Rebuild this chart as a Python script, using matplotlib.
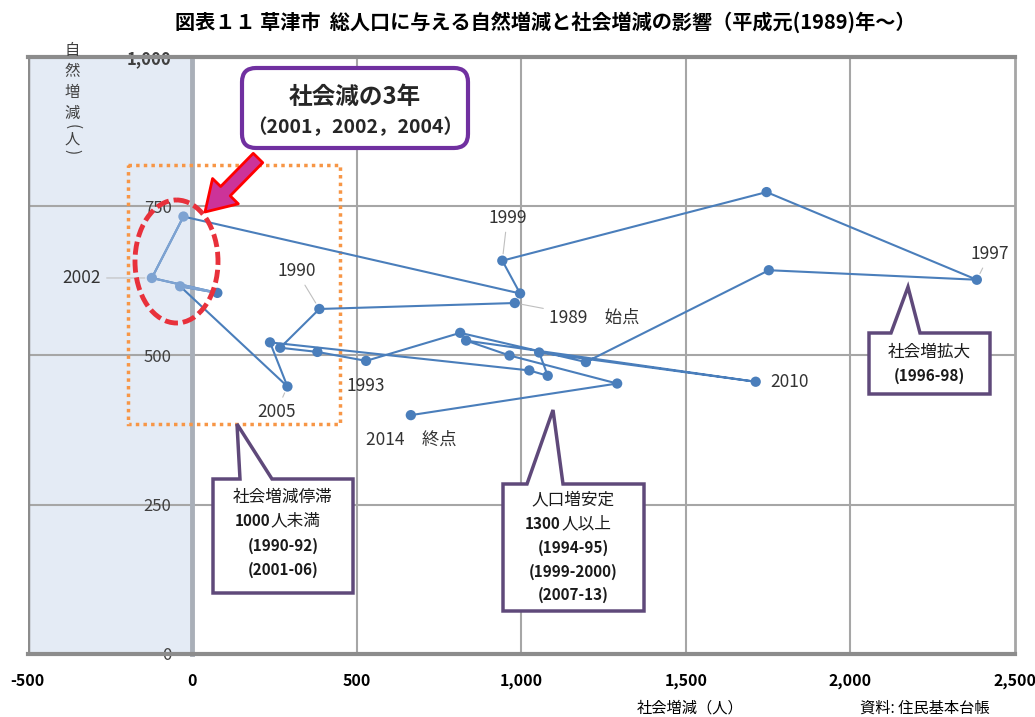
import matplotlib
matplotlib.use("Agg")
import matplotlib.pyplot as plt
from matplotlib.patches import Ellipse, Rectangle, Polygon, FancyBboxPatch, FancyArrowPatch
from matplotlib.transforms import Affine2D

plt.rcParams['font.family'] = ['Noto Sans CJK JP', 'DejaVu Sans']

# data: social change (x) and natural change (y), 1989-2014
years = list(range(1989, 2015))
social = [980, 386, 267, 380, 528, 814, 1196, 1752, 2384, 1745, 942, 996, -27,
          -123, 76, -37, 289, 236, 1024, 1080, 1054, 1712, 832, 964, 1291, 664]
natural = [588, 578, 513, 506, 491, 538, 489, 643, 627, 774, 659, 604, 733,
           630, 605, 616, 448, 522, 475, 466, 505, 456, 525, 500, 453, 400]
light_years = [2001, 2002, 2004]

xticks = [-500, 0, 500, 1000, 1500, 2000, 2500]
yticks = [0, 250, 500, 750, 1000]

# label text, offset from point in pixels, alignment, leader line
point_labels = {
    1999: ("1999", (5, 43), 'center', True),
    1990: ("1990", (-23, 38), 'center', True),
    2002: ("2002", (-70, 0), 'center', True),
    1989: ("1989\u3000始点", (34, -15), 'left', True),
    1993: ("1993", (0, -25), 'center', False),
    2005: ("2005", (-11, -25), 'center', True),
    2014: ("2014\u3000終点", (0, -25), 'center', False),
    2010: ("2010", (15, 0), 'left', False),
    1997: ("1997", (13, 26), 'center', True),
}

W, H = 1035, 717
fig = plt.figure(figsize=(W / 100, H / 100), dpi=100)
# pixel coordinates measured from the top-left corner, for the decorations
pxt = Affine2D().scale(1 / W, -1 / H).translate(0, 1) + fig.transFigure

ax = fig.add_axes([27.8 / W, 1 - 653.7 / H, (1015 - 27.8) / W, (653.7 - 57.3) / H])
ax.set_xlim(-500, 2500)
ax.set_ylim(0, 1000)

ax.axvspan(-500, 0, color='#E4EBF5', zorder=0, lw=0)
for x in xticks[2:-1]:
    ax.axvline(x, color='#A6A6A6', lw=1.5, zorder=1)
for y in yticks[1:-1]:
    ax.axhline(y, color='#A6A6A6', lw=1.5, zorder=1)
ax.axvline(-500, color='#8C8C8C', lw=2.5, zorder=2)

ax.spines['left'].set_position(('data', 0))
ax.spines['left'].set_color('#A9AFB8')
ax.spines['left'].set_linewidth(3.5)
ax.spines['top'].set_color('#8C8C8C')
ax.spines['top'].set_linewidth(3)
ax.spines['right'].set_color('#A6A6A6')
ax.spines['right'].set_linewidth(2)
ax.spines['bottom'].set_color('#8C8C8C')
ax.spines['bottom'].set_linewidth(3)

ax.set_xticks(xticks)
ax.set_xticklabels(['{:,}'.format(v) for v in xticks], fontweight='bold')
ax.set_yticks(yticks)
ax.set_yticklabels(['{:,}'.format(v) for v in yticks])
ax.tick_params(axis='x', length=0, pad=14, labelsize=11.5)
ax.tick_params(axis='y', length=0, pad=15, labelsize=12, labelcolor='#404040')
ax.get_yticklabels()[-1].set_fontweight('bold')

blue = '#4A7EBB'
pale = '#7EA3D2'
ax.plot(social, natural, color=blue, lw=1.5, zorder=5)
i0, i1 = years.index(2001), years.index(2004)
ax.plot(social[i0:i1 + 1], natural[i0:i1 + 1], color=pale, lw=1.5, zorder=5)
cols = [pale if y in light_years else blue for y in years]
ax.scatter(social, natural, s=55, c=cols, zorder=6, lw=0)

for yr, (txt, off, ha, lead) in point_labels.items():
    i = years.index(yr)
    ax.annotate(txt, (social[i], natural[i]), xytext=off, textcoords='offset pixels',
                ha=ha, va='center', fontsize=12.5, color='#333333', zorder=7,
                arrowprops=dict(arrowstyle='-', color='#BFBFBF', lw=0.8,
                                shrinkA=2, shrinkB=5) if lead else None)

# decorations
ax.add_patch(Rectangle((128, 165), 212, 259, transform=pxt, fill=False, ec='#F79646',
                       lw=2.5, ls=(0, (1, 1.2)), zorder=4, clip_on=False))
ax.add_patch(Ellipse((176.5, 261.5), 83, 123, transform=pxt, fill=False, ec='#E8313B',
                     lw=3.5, ls=(0, (2.7, 1.0)), zorder=8, clip_on=False))
ax.add_patch(FancyBboxPatch((248, 74), 214, 68, boxstyle='round,pad=6,rounding_size=14',
                            transform=pxt, fc='white', ec='#7030A0', lw=3, zorder=8,
                            clip_on=False))
ax.text(355, 97, '社会減の3年', transform=pxt, ha='center', va='center', fontsize=17,
        fontweight='bold', color='#262626', zorder=9)
ax.text(355, 127, '（2001，2002，2004）', transform=pxt, ha='center', va='center',
        fontsize=14, fontweight='bold', color='#262626', zorder=9)
ax.add_patch(FancyArrowPatch((258, 158), (205, 212), transform=pxt,
                             arrowstyle='simple,head_width=1.3,head_length=1.05,tail_width=0.48',
                             mutation_scale=20, fc='#CC3399', ec='#FF0000', lw=2,
                             shrinkA=0, shrinkB=0, zorder=9, clip_on=False))


def callout(left, top, right, bottom, b0, b1, tip):
    pts = [(left, top), (b0, top), tip, (b1, top), (right, top), (right, bottom), (left, bottom)]
    ax.add_patch(Polygon(pts, closed=True, transform=pxt, fc='white', ec='#5F497A', lw=2.5,
                         joinstyle='miter', zorder=8, clip_on=False))


def ctext(x, y, s, bold=False, size=11, ha='center'):
    ax.text(x, y, s, transform=pxt, ha=ha, va='center', fontsize=size,
            fontweight='bold' if bold else 'normal', color='#1a1a1a', zorder=9)


callout(213, 479, 353, 593, 240, 272, (237, 424))
ctext(283, 497, '社会増減停滞', size=12)
ctext(270, 521, '1000', bold=True, ha='right')
ctext(270, 521, '人未満', size=12, ha='left')
ctext(283, 546, '(1990-92)', bold=True)
ctext(283, 570, '(2001-06)', bold=True)

callout(503, 484, 644, 611, 527, 563, (553, 410))
ctext(573, 500, '人口増安定', size=12)
ctext(561, 524, '1300', bold=True, ha='right')
ctext(561, 524, '人以上', size=12, ha='left')
ctext(573, 548, '(1994-95)', bold=True)
ctext(573, 572, '(1999-2000)', bold=True)
ctext(573, 595, '(2007-13)', bold=True)

callout(869, 333, 990, 394, 891, 920, (908, 287))
ctext(929, 352, '社会増拡大', size=12)
ctext(929, 376, '(1996-98)', bold=True)

# titles and axis names
fig.text(545 / W, 1 - 22 / H, '図表１１ 草津市  総人口に与える自然増減と社会増減の影響（平成元(1989)年～）',
         ha='center', va='center', fontsize=14.5, fontweight='bold')
for ch, yy, rot in zip('自然増減(人)', [50, 72, 93, 113, 127, 139, 152],
                       [0, 0, 0, 0, -90, 0, -90]):
    fig.text(72 / W, 1 - yy / H, ch, ha='center', va='center', fontsize=11,
             color='#404040', rotation=rot)
fig.text(690 / W, 1 - 708 / H, '社会増減（人）', ha='center', va='center', fontsize=11)
fig.text(925 / W, 1 - 708 / H, '資料: 住民基本台帳', ha='center', va='center', fontsize=11)

fig.savefig('out.png', dpi=100)
